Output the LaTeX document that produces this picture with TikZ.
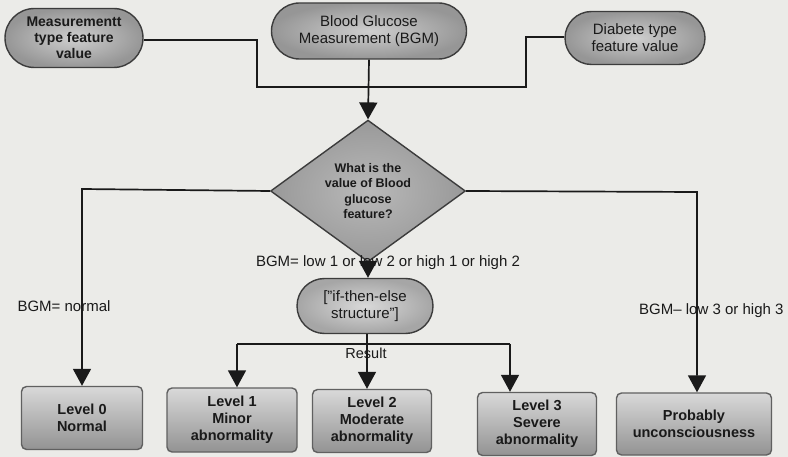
\documentclass[tikz,border=0pt]{standalone}
\usepackage{fontspec}
\setmainfont{Liberation Sans}
\usetikzlibrary{shapes.geometric,shapes.misc,arrows.meta}

\definecolor{paper}{HTML}{EBEBE8}
\definecolor{ink}{HTML}{1A1A1A}
\definecolor{edge}{HTML}{3C3C3C}

\begin{document}
\begin{tikzpicture}[x=1pt,y=-1pt,
  txt/.style={font=\fontsize{15}{17}\selectfont, text=ink},
  pill/.style={rounded rectangle, draw=edge, line width=1.4pt,
    inner color=gray!38, outer color=gray!82, align=center, inner sep=0pt,
    font=\fontsize{15}{17}\selectfont, text=ink},
  decision/.style={diamond, draw=edge, line width=1.4pt,
    inner color=gray!55, outer color=gray!80, align=center, inner sep=0pt,
    font=\bfseries\fontsize{12.5}{15.5}\selectfont, text=ink},
  outcome/.style={rectangle, rounded corners=5pt, draw=gray!75!black, line width=1.4pt,
    top color=gray!30, bottom color=gray!85, align=center, inner sep=0pt,
    font=\bfseries\fontsize{14.5}{17}\selectfont, text=ink},
  link/.style={draw=ink, line width=1.7pt},
  flow/.style={link, -{Triangle[width=18pt,length=17pt]}}
]
  % page background and bounds
  \fill[paper] (0,0) rectangle (788,457);
  \useasboundingbox (0,0) rectangle (788,457);

  % input features
  \node[pill, font=\bfseries\fontsize{14}{16}\selectfont, minimum width=138pt, minimum height=59pt]
    (mtype) at (74,38) {Measurementt\\type feature\\value};
  \node[pill, minimum width=195pt, minimum height=56pt]
    (bgm) at (369,31) {Blood Glucose\\Measurement (BGM)};
  \node[pill, minimum width=140pt, minimum height=53pt]
    (dtype) at (635,38) {Diabete type\\feature value};

  % decision
  \node[decision, minimum width=195pt, minimum height=125pt]
    (ask) at (368,191) {What is the\\value of Blood\\glucose\\feature?};

  \node[pill, inner color=gray!30, outer color=gray!70, minimum width=136pt, minimum height=55pt]
    (ite) at (365,306) {[''if-then-else\\structure'']};

  % outcomes
  \node[outcome, minimum width=121pt, minimum height=63pt] (l0) at (82,418) {Level 0\\Normal};
  \node[outcome, minimum width=130pt, minimum height=64pt] (l1) at (232,420) {Level 1\\Minor\\abnormality};
  \node[outcome, minimum width=119pt, minimum height=63pt] (l2) at (372,421) {Level 2\\Moderate\\abnormality};
  \node[outcome, minimum width=119pt, minimum height=63pt] (l3) at (537,424) {Level 3\\Severe\\abnormality};
  \node[outcome, minimum width=155pt, minimum height=62pt] (pu) at (694,424) {Probably\\unconsciousness};

  % routing points
  \coordinate (jl) at (257,87);
  \coordinate (jr) at (526,87);
  \coordinate (cl) at (82,189);
  \coordinate (cr) at (697,192);
  \coordinate (bus) at (367,344);
  \coordinate (bl) at (237,344);
  \coordinate (br) at (510,344);

  % inputs merge into the BGM line
  \draw[link] (mtype.east |- 0,40) -- (jl |- 0,40) -- (jl) -- (bgm.south |- jl);
  \draw[link] (dtype.west |- 0,37) -- (jr |- 0,37) -- (jr) -- (bgm.south |- jr);
  \draw[flow] (bgm.south) -- (ask.north);

  % branches of the decision
  \draw[flow] (ask.west) -- (cl) -- (l0.north -| cl);
  \draw[flow] (ask.east) -- (cr) -- (pu.north -| cr);
  \draw[flow] (ask.south) -- (ite.north -| ask.south);

  % results of the rule structure
  \draw[link] (ite.south -| bus) -- (bus);
  \draw[link] (bl) -- (br);
  \draw[flow] (bl) -- (l1.north -| bl);
  \draw[flow] (bus) -- (l2.north -| bus);
  \draw[flow] (br) -- (l3.north -| br);

  % branch labels
  \node[txt, anchor=west] (lnorm) at (14,306) {BGM= normal};
  \node[txt] (lmid) at (388,263) {BGM= low 1 or low 2 or high 1 or high 2};
  \node[txt, anchor=east] (lhigh) at (787,311) {BGM-- low 3 or high 3};
  \node[txt, font=\fontsize{14.5}{17}\selectfont] (lres) at (366,353) {Result};
\end{tikzpicture}
\end{document}
